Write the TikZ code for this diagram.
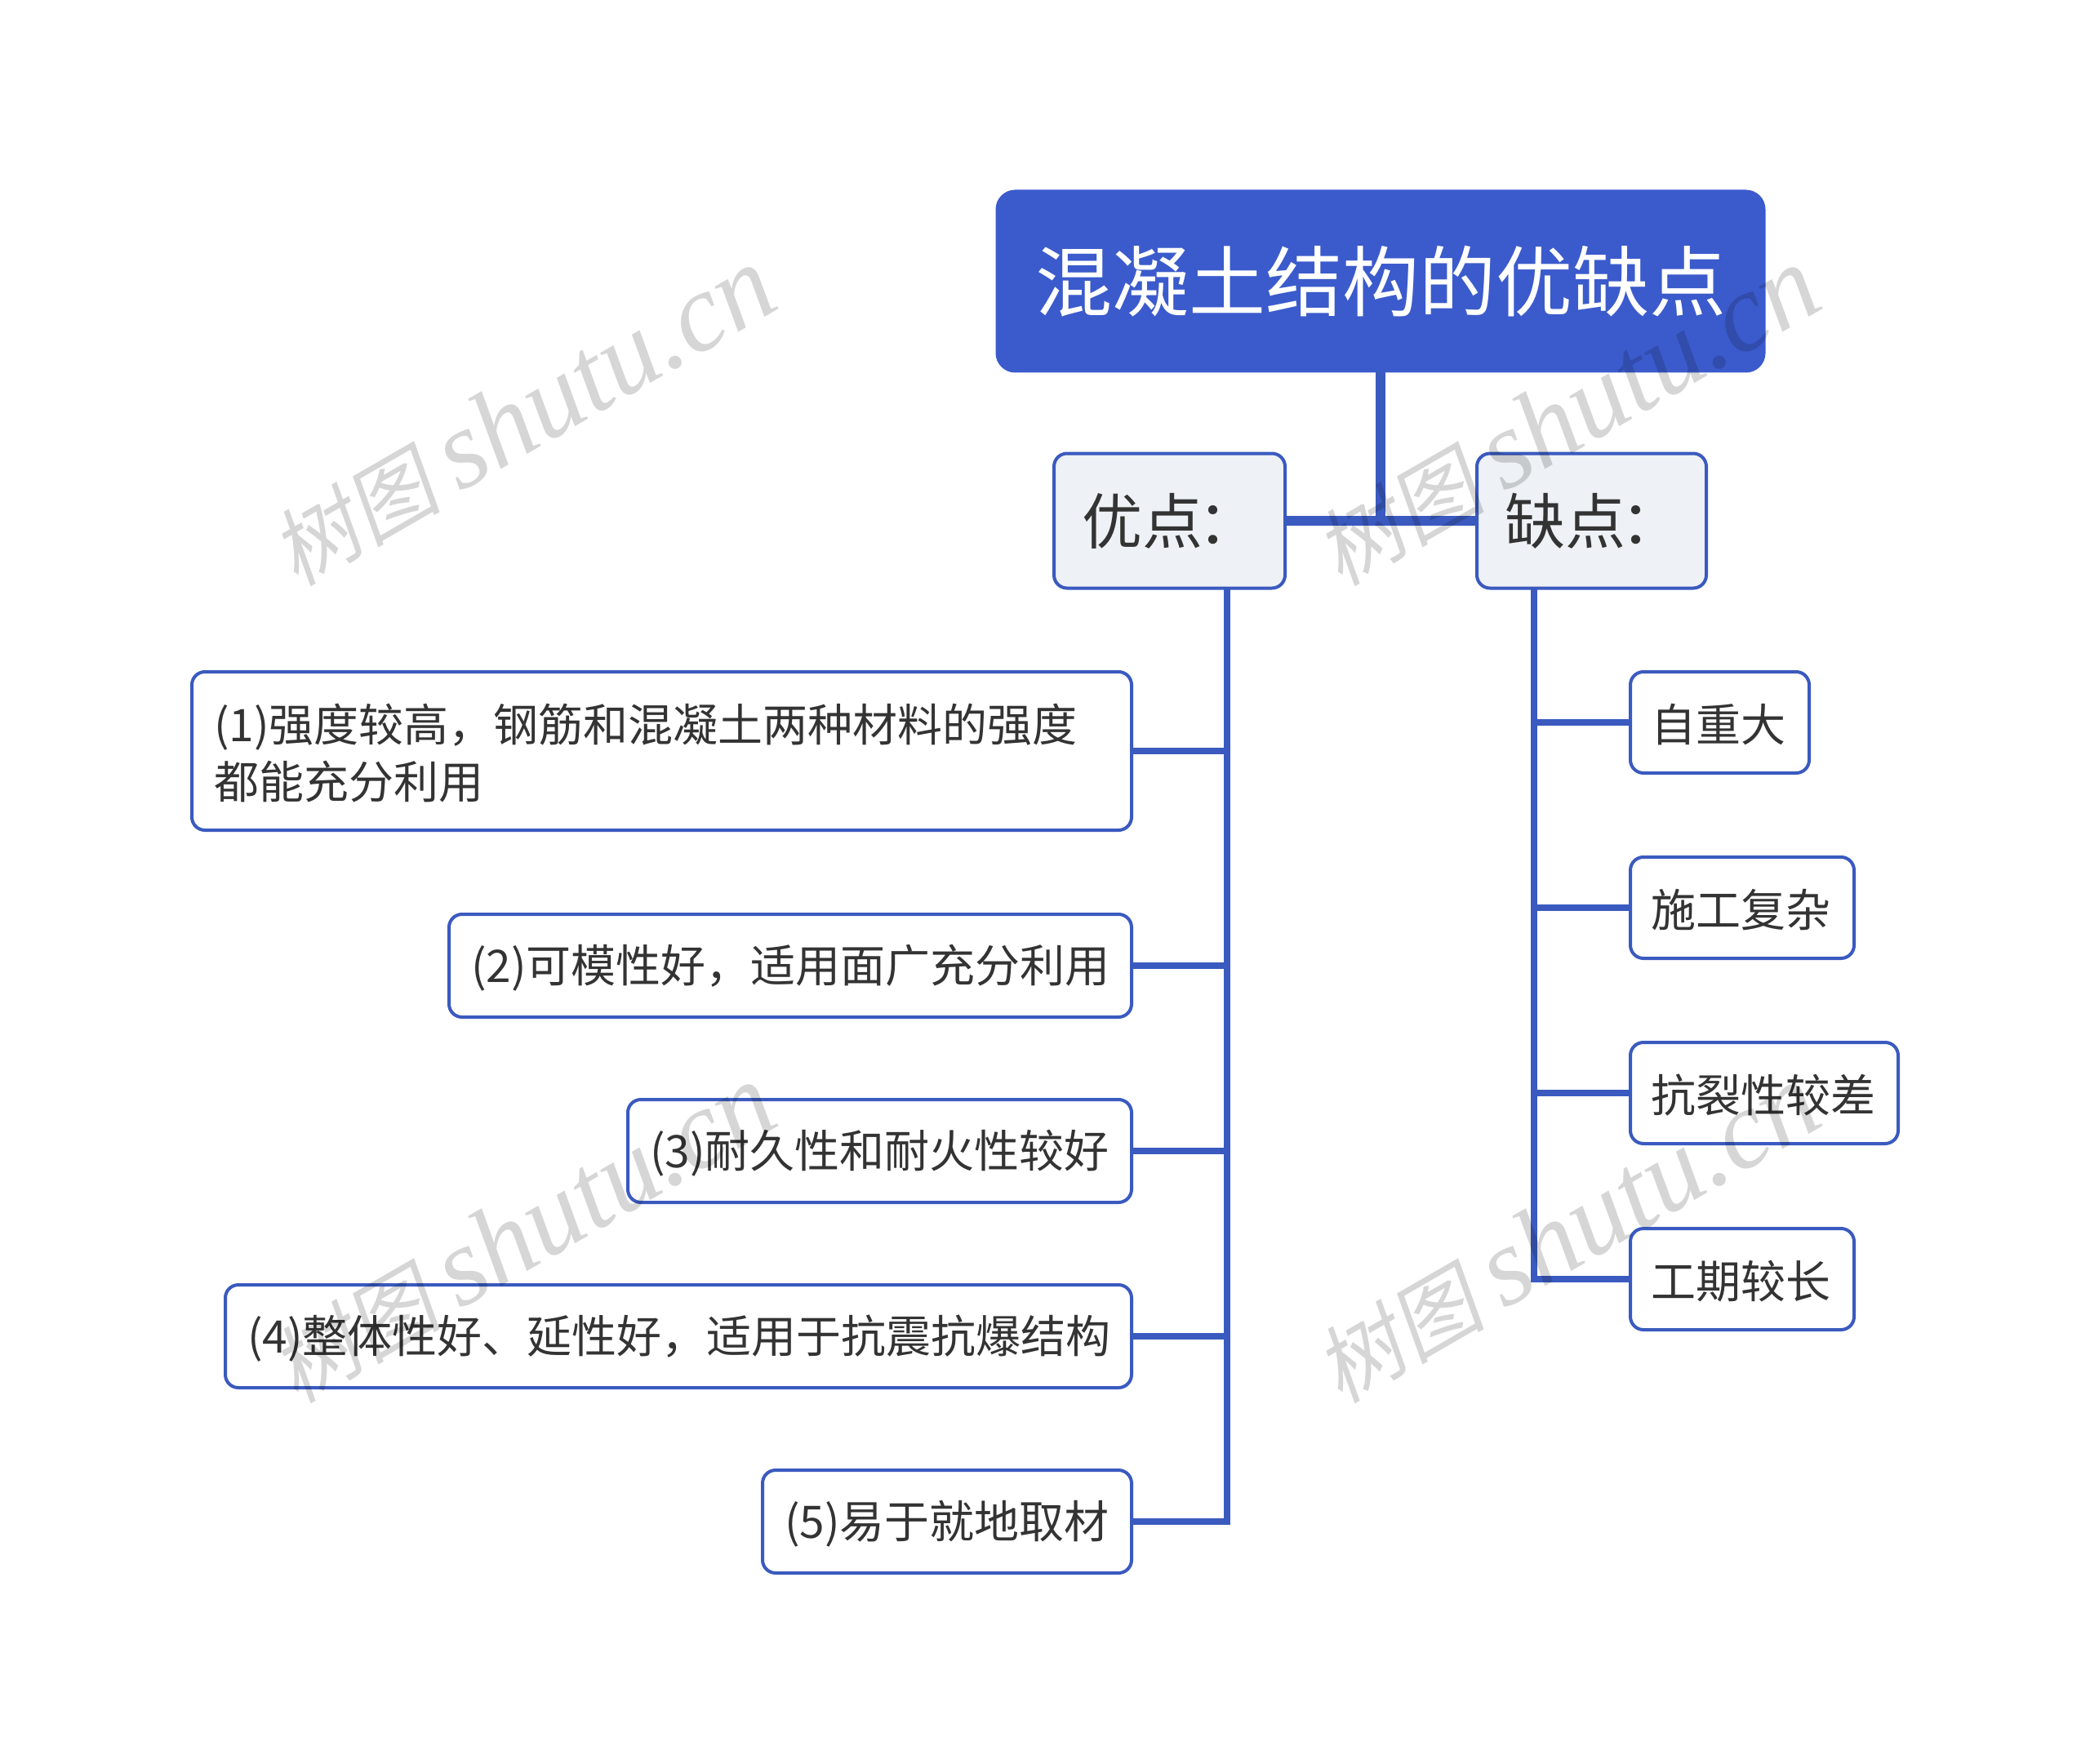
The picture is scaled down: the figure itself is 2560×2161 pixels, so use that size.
\documentclass[tikz,border=0pt]{standalone}
\usepackage{fontspec}
\setmainfont{Noto Sans CJK SC}
\newfontfamily\wmcjk[FakeSlant=0.18]{Noto Sans CJK SC}
\newfontfamily\wmlat{Liberation Serif}[ItalicFont={Liberation Serif Italic}]
\definecolor{mblue}{HTML}{3B5BCC}
\definecolor{mline}{HTML}{3A5ABF}
\definecolor{mfill}{HTML}{EEF1F5}
\definecolor{mtext}{HTML}{333333}
\tikzset{
  x=0.5pt,y=-0.5pt,
  box/.style={draw=mline,line width=2pt,rounded corners=8pt,outer sep=0pt,inner ysep=0pt,inner xsep=0pt,text=mtext,font=\fontsize{27.5pt}{35pt}\selectfont},
  leaf/.style={box,fill=white,align=left,inner xsep=13.5pt,execute at begin node={\rule{0pt}{26pt}}},
  rleaf/.style={leaf,inner xsep=12.5pt},
  mid/.style={box,fill=mfill,align=left,font=\fontsize{37pt}{44pt}\selectfont,inner xsep=17pt},
  rootbox/.style={box,fill=mblue,draw=mblue,text=white,font=\fontsize{47pt}{56pt}\selectfont,rounded corners=11pt},
  conn/.style={draw=mline,line width=4pt,line join=miter,line cap=butt},
  trunk/.style={conn,line width=6pt},
  wm/.style={rotate=30,text=black,opacity=0.16,font=\fontsize{52pt}{66pt}\selectfont,inner sep=0pt}
}
\newcommand{\wmark}{{\wmcjk 树图} {\wmlat\itshape\fontsize{68pt}{66pt}\selectfont shutu.cn}}
\begin{document}
\begin{tikzpicture}
\useasboundingbox (0,0) rectangle (2560,2161);
\node[rootbox,minimum width=469.5pt,minimum height=110pt] (root) at (1691,344.5) {混凝土结构的优缺点};
\node[mid,text width=107.5pt,minimum height=82.5pt] (adv) at (1432.5,638) {优点\kern-3pt：};
\node[mid,text width=106.5pt,minimum height=82.5pt] (dis) at (1949.5,638) {缺点\kern-3pt：};

\node[leaf,text width=548.5pt,minimum height=97pt] (a1) at (810.5,920) {(1)强度较高，钢筋和混凝土两种材料的强度\\都能充分利用};
\node[leaf,text width=391pt,minimum height=63pt] (a2) at (968,1183) {(2)可模性好，适用面广充分利用};
\node[leaf,text width=281.5pt,minimum height=63pt] (a3) at (1077.5,1410) {(3)耐久性和耐火性较好};
\node[leaf,text width=528pt,minimum height=63pt] (a4) at (831,1637) {(4)整体性好、延性好，适用于抗震抗爆结构};
\node[leaf,text width=199pt,minimum height=63pt] (a5) at (1160,1864) {(5)易于就地取材};

\node[rleaf,text width=84.5pt,minimum height=62pt] (d1) at (2106.5,885) {自重大};
\node[rleaf,text width=112pt,minimum height=62pt] (d2) at (2134,1112) {施工复杂};
\node[rleaf,text width=139pt,minimum height=62pt] (d3) at (2161,1339) {抗裂性较差};
\node[rleaf,text width=112pt,minimum height=62pt] (d4) at (2134,1567) {工期较长};

\coordinate (lsp) at (1503,720);
\coordinate (rsp) at (1879,720);
\draw[trunk] (adv.east) -- (dis.west);
\draw[trunk] (root.south) -- (root.south |- adv.east);
\draw[conn] (lsp) -- (lsp |- a5.east) -- (a5.east);
\draw[conn] (a1.east) -- (a1.east -| lsp);
\draw[conn] (a2.east) -- (a2.east -| lsp);
\draw[conn] (a3.east) -- (a3.east -| lsp);
\draw[conn] (a4.east) -- (a4.east -| lsp);
\draw[conn] (rsp) -- (rsp |- d4.west) -- (d4.west);
\draw[conn] (d1.west) -- (d1.west -| rsp);
\draw[conn] (d2.west) -- (d2.west -| rsp);
\draw[conn] (d3.west) -- (d3.west -| rsp);
% watermarks
\node[wm] (w1) at (640,510) {\wmark};
\node[wm] (w2) at (1919,510) {\wmark};
\node[wm] (w3) at (640,1511) {\wmark};
\node[wm] (w4) at (1919,1511) {\wmark};
\end{tikzpicture}
\end{document}
